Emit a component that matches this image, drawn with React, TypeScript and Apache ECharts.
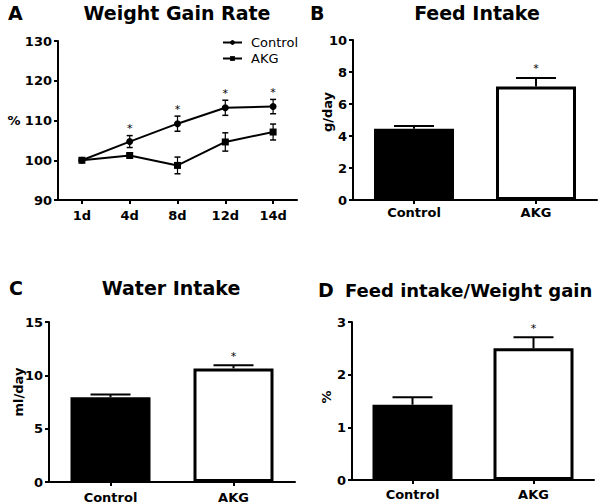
import React, { useEffect, useRef } from "react";
import * as echarts from "echarts";

// Panel A: weight gain rate (%)
const days = ["1d", "4d", "8d", "12d", "14d"];
const controlGain = [100, 104.7, 109.2, 113.2, 113.5];
const controlGainErr = [0, 1.5, 1.9, 1.9, 1.8];
const akgGain = [100, 101.2, 98.7, 104.6, 107.1];
const akgGainErr = [0, 0.4, 2.1, 2.3, 2.0];
const gainSignificant = [false, true, true, true, true];

// Panels B-D
const groups = ["Control", "AKG"];
const feedIntake = [4.45, 7.1];
const feedIntakeErr = [0.18, 0.53];
const waterIntake = [7.95, 10.65];
const waterIntakeErr = [0.25, 0.3];
const feedPerGain = [1.43, 2.5];
const feedPerGainErr = [0.14, 0.21];
const barSignificant = [false, true];

const FONT = "DejaVu Sans";
const labelStyle = { color: "#000", fontFamily: FONT, fontWeight: "bold" as const, fontSize: 13 };

function yAx(gridIndex: number, min: number, max: number, interval: number) {
  return {
    type: "value",
    gridIndex,
    min,
    max,
    interval,
    splitLine: { show: false },
    axisLine: { show: true, lineStyle: { color: "#000", width: 2 } },
    axisTick: { show: true, length: 4, lineStyle: { color: "#000", width: 2 } },
    axisLabel: { ...labelStyle, margin: 6 },
  };
}

function xAx(gridIndex: number, data: string[], margin: number) {
  return {
    type: "category",
    gridIndex,
    data,
    boundaryGap: true,
    axisLine: { show: true, lineStyle: { color: "#000", width: 2 } },
    axisTick: { show: true, alignWithLabel: true, length: 4, lineStyle: { color: "#000", width: 2 } },
    axisLabel: { ...labelStyle, margin },
  };
}

function symErrSeries(idx: number, vals: number[], errs: number[]) {
  return {
    type: "custom",
    xAxisIndex: idx,
    yAxisIndex: idx,
    z: 5,
    itemStyle: { color: "#000" },
    data: vals.map((v, i) => [i, v, errs[i]]),
    renderItem: (_p: any, api: any) => {
      const x = api.value(0);
      const v = api.value(1);
      const e = api.value(2);
      if (!e) return { type: "group", children: [] };
      const top = api.coord([x, v + e]);
      const bot = api.coord([x, v - e]);
      const hw = 3;
      const st = { stroke: "#000", lineWidth: 1.2 };
      return {
        type: "group",
        children: [
          { type: "line", shape: { x1: top[0], y1: top[1], x2: bot[0], y2: bot[1] }, style: st },
          { type: "line", shape: { x1: top[0] - hw, y1: top[1], x2: top[0] + hw, y2: top[1] }, style: { stroke: "#000", lineWidth: 1.5 } },
          { type: "line", shape: { x1: bot[0] - hw, y1: bot[1], x2: bot[0] + hw, y2: bot[1] }, style: { stroke: "#000", lineWidth: 1.5 } },
        ],
      };
    },
  };
}

function upErrSeries(idx: number, vals: number[], errs: number[]) {
  return {
    type: "custom",
    xAxisIndex: idx,
    yAxisIndex: idx,
    z: 5,
    itemStyle: { color: "#000" },
    data: vals.map((v, i) => [i, v, errs[i]]),
    renderItem: (_p: any, api: any) => {
      const x = api.value(0);
      const v = api.value(1);
      const e = api.value(2);
      const base = api.coord([x, v]);
      const top = api.coord([x, v + e]);
      const hw = 20;
      const st = { stroke: "#000", lineWidth: 2 };
      return {
        type: "group",
        children: [
          { type: "line", shape: { x1: base[0], y1: base[1], x2: top[0], y2: top[1] }, style: st },
          { type: "line", shape: { x1: top[0] - hw, y1: top[1], x2: top[0] + hw, y2: top[1] }, style: st },
        ],
      };
    },
  };
}

function starSeries(idx: number, tops: number[], flags: boolean[], gap: number) {
  return {
    type: "custom",
    xAxisIndex: idx,
    yAxisIndex: idx,
    z: 6,
    itemStyle: { color: "#000" },
    data: tops.map((t, i) => [i, t, flags[i] ? 1 : 0]),
    renderItem: (_p: any, api: any) => {
      if (!api.value(2)) return { type: "group", children: [] };
      const p = api.coord([api.value(0), api.value(1)]);
      return {
        type: "text",
        x: p[0],
        y: p[1] - gap,
        style: {
          text: "*",
          fill: "#000",
          textFill: "#000",
          fontFamily: FONT,
          fontSize: 11,
          align: "center",
          verticalAlign: "middle",
          textAlign: "center",
          textVerticalAlign: "middle",
        },
      };
    },
  };
}

function barSeries(idx: number, name: string, vals: number[]) {
  return {
    type: "bar",
    name,
    xAxisIndex: idx,
    yAxisIndex: idx,
    barWidth: 80,
    data: vals.map((v, i) => ({
      value: v,
      itemStyle:
        i === 0
          ? { color: "#000", borderColor: "#000", borderWidth: 2 }
          : { color: "#fff", borderColor: "#000", borderWidth: 3 },
    })),
  };
}

function txt(x: number, y: number, text: string, size: number, bold: boolean, align = "left", rotation = 0) {
  return {
    type: "text",
    x,
    y,
    rotation,
    style: {
      text,
      fill: "#000",
      fontFamily: FONT,
      fontSize: size,
      fontWeight: bold ? "bold" : "normal",
      align,
      verticalAlign: "middle",
      textAlign: align,
      textVerticalAlign: "middle",
    },
  };
}

export default function App() {
  const ref = useRef<HTMLDivElement>(null);
  useEffect(() => {
    if (!ref.current) return;
    const chart = echarts.init(ref.current, null, { renderer: "svg" });
    const gainTops = controlGain.map((v, i) => Math.max(v + controlGainErr[i], akgGain[i] + akgGainErr[i]));
    const option: any = {
      animation: false,
      backgroundColor: "#fff",
      grid: [
        { left: 58, top: 41, width: 239, height: 159 },
        { left: 353, top: 40, width: 244, height: 160 },
        { left: 49, top: 322, width: 246, height: 160 },
        { left: 352, top: 322, width: 242, height: 158 },
      ],
      xAxis: [xAx(0, days, 9), xAx(1, groups, 6), xAx(2, groups, 9), xAx(3, groups, 8)],
      yAxis: [yAx(0, 90, 130, 10), yAx(1, 0, 10, 2), yAx(2, 0, 15, 5), yAx(3, 0, 3, 1)],
      legend: {
        data: ["Control", "AKG"],
        left: 222,
        top: 36,
        orient: "vertical",
        itemWidth: 19,
        itemHeight: 6,
        itemGap: 3,
        padding: 0,
        textStyle: { fontFamily: FONT, fontSize: 13, color: "#000", padding: [0, 0, 0, 4] },
      },
      series: [
        {
          type: "line",
          name: "Control",
          xAxisIndex: 0,
          yAxisIndex: 0,
          data: controlGain,
          symbol: "circle",
          symbolSize: 7,
          itemStyle: { color: "#000" },
          lineStyle: { color: "#000", width: 2 },
          z: 4,
        },
        {
          type: "line",
          name: "AKG",
          xAxisIndex: 0,
          yAxisIndex: 0,
          data: akgGain,
          symbol: "rect",
          symbolSize: 7,
          itemStyle: { color: "#000" },
          lineStyle: { color: "#000", width: 2 },
          z: 4,
        },
        symErrSeries(0, controlGain, controlGainErr),
        symErrSeries(0, akgGain, akgGainErr),
        starSeries(0, gainTops, gainSignificant, 7),
        barSeries(1, "Feed Intake", feedIntake),
        upErrSeries(1, feedIntake, feedIntakeErr),
        starSeries(1, feedIntake.map((v, i) => v + feedIntakeErr[i]), barSignificant, 9),
        barSeries(2, "Water Intake", waterIntake),
        upErrSeries(2, waterIntake, waterIntakeErr),
        starSeries(2, waterIntake.map((v, i) => v + waterIntakeErr[i]), barSignificant, 9),
        barSeries(3, "Feed intake/Weight gain", feedPerGain),
        upErrSeries(3, feedPerGain, feedPerGainErr),
        starSeries(3, feedPerGain.map((v, i) => v + feedPerGainErr[i]), barSignificant, 9),
      ],
      graphic: [
        txt(8, 13, "A", 19, true),
        txt(177, 13, "Weight Gain Rate", 19, true, "center"),
        txt(310, 13, "B", 19, true),
        txt(477, 13, "Feed Intake", 19, true, "center"),
        txt(9, 288, "C", 19, true),
        txt(171, 288, "Water Intake", 19, true, "center"),
        txt(318, 290, "D", 19, true),
        txt(345, 290, "Feed intake/Weight gain", 18, true),
        txt(14, 120, "%", 13, true, "center"),
        txt(327, 112, "g/day", 13, true, "center", Math.PI / 2),
        txt(18, 392, "ml/day", 13, true, "center", Math.PI / 2),
        txt(326, 397, "%", 13, true, "center", Math.PI / 2),
      ],
    };
    chart.setOption(option);
    return () => chart.dispose();
  }, []);
  return <div ref={ref} style={{ position: "absolute", left: 0, top: 0, width: 600, height: 504 }} />;
}
